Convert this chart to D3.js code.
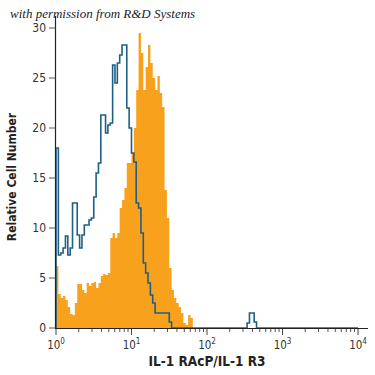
<!DOCTYPE html>
<html>
<head>
<meta charset="utf-8">
<script src="https://cdn.jsdelivr.net/npm/d3@7"></script>
<style>
  html, body { margin: 0; padding: 0; background: #fff; }
  svg { display: block; }
  .tick-label { font-family: "DejaVu Sans Condensed", "Liberation Sans Narrow", sans-serif; font-size: 11.5px; fill: #333; }
  .axis-title { font-family: "DejaVu Sans Condensed", "Liberation Sans Narrow", sans-serif; font-weight: bold; fill: #222; }
</style>
</head>
<body>
<div id="chart"></div>
<script>

// histogram bins, 32 bins per decade starting at 10^0
var binsPerDecade = 32;

// stained cells (orange, filled)
var stainedCounts = [
    6.2, 3.4, 3.0, 3.2, 2.8, 2.1, 1.4, 1.3, 2.5, 4.4,
    4.4, 3.8, 3.5, 4.5, 4.2, 4.5, 4.6, 4.0, 4.5, 5.2,
    5.4, 5.3, 5.5, 9.0, 9.5, 9.0, 9.5, 12.0, 12.8, 14.0,
    16.5, 16.5, 17.5, 20.0, 23.8, 29.5, 27.5, 23.8, 26.1, 28.3,
    26.5, 25.0, 23.8, 25.2, 23.5, 22.1, 13.8, 11.0, 6.0, 3.8,
    3.0, 2.5, 2.1, 1.5, 0.5, 0.3, 1.3, 1.0
];

// isotype control (blue outline)
var controlCounts = [
    18.0, 7.3, 7.5, 8.0, 9.2, 7.3, 8.0, 12.5, 12.5, 9.3,
    8.0, 9.3, 10.3, 10.3, 10.8, 11.0, 13.1, 15.5, 16.5, 21.3,
    21.3, 19.5, 20.3, 20.5, 26.3, 24.5, 26.5, 27.3, 28.3, 28.3,
    22.0, 20.0, 17.5, 16.6, 12.5, 12.0, 9.5, 6.5, 5.5, 4.5,
    3.3, 2.5, 1.5, 1.5, 1.5, 1.5, 1.5, 1.5, 0.6, 0,
    0, 0, 0, 0, 0, 0, 0, 0, 0, 0,
    0, 0, 0, 0, 0, 0, 0, 0, 0, 0,
    0, 0, 0, 0, 0, 0, 0, 0, 0, 0,
    0, 0.5, 1.5, 1.5, 0.6
];

var yTicks = [ 0, 5, 10, 15, 20, 25, 30 ];
var xDecades = [ 0, 1, 2, 3, 4 ];
var xTitle = 'IL-1 RAcP/IL-1 R3';
var yTitle = 'Relative Cell Number';
var credit = 'with permission from R&D Systems';

var width = 375,
    height = 375;

var x = d3.scaleLog()
    .domain([ 1, 1e4 ])
    .range([ 56, 358 ]);

var y = d3.scaleLinear()
    .domain([ 0, 30 ])
    .range([ 328, 28 ]);

function edge ( i ) {
    return Math.pow( 10, i / binsPerDecade );
}

function stepPoints ( counts ) {
    var pts = [ { x: edge( 0 ), v: 0 } ];
    counts.forEach( function ( v, i ) {
        pts.push({ x: edge( i ), v: v });
    });
    pts.push({ x: edge( counts.length ), v: 0 });
    return pts;
}

var svg = d3.select('#chart').append('svg')
    .attr('width', width)
    .attr('height', height);

// orange histogram
var area = d3.area()
    .curve( d3.curveStepAfter )
    .x( function ( d ) { return x( d.x ) })
    .y0( y( 0 ) )
    .y1( function ( d ) { return y( d.v ) });

svg.append('path')
    .datum( stepPoints( stainedCounts ) )
    .attr('d', area)
    .style('fill', '#f8a11c');

// blue outline histogram, baseline runs on to 10^4
var line = d3.line()
    .curve( d3.curveStepAfter )
    .x( function ( d ) { return x( d.x ) })
    .y( function ( d ) { return y( d.v ) });

var controlPts = stepPoints( controlCounts );
controlPts.push({ x: 1e4, v: 0 });

svg.append('path')
    .datum( controlPts )
    .attr('d', line)
    .style('fill', 'none')
    .style('stroke', '#1f5f86')
    .style('stroke-width', 1.6);

// y axis
svg.append('line')
    .attr('x1', 55.5).attr('x2', 55.5)
    .attr('y1', y( 0 )).attr('y2', 16)
    .style('stroke', '#222')
    .style('stroke-width', 1.2);

var yt = svg.selectAll('.ytick')
    .data( yTicks )
    .enter().append('g')
    .attr('class', 'ytick')
    .attr('transform', function ( d ) { return 'translate(0,' + y( d ) + ')' });

yt.append('line')
    .attr('x1', 49).attr('x2', 55.5)
    .style('stroke', '#555')
    .style('stroke-width', 1);

yt.append('text')
    .attr('class', 'tick-label')
    .attr('x', 46)
    .attr('dy', '0.36em')
    .attr('text-anchor', 'end')
    .style('font-size', '12px')
    .text( function ( d ) { return d });

// x axis
svg.append('line')
    .attr('x1', 55).attr('x2', 368)
    .attr('y1', y( 0 ) + 0.5).attr('y2', y( 0 ) + 0.5)
    .style('stroke', '#222')
    .style('stroke-width', 1.2);

var minor = [];
xDecades.slice( 0, -1 ).forEach( function ( p ) {
    for ( var k = 2; k < 10; k++ ) {
        minor.push( k * Math.pow( 10, p ) );
    }
});

svg.selectAll('.xminor')
    .data( minor )
    .enter().append('line')
    .attr('class', 'xminor')
    .attr('x1', function ( d ) { return x( d ) })
    .attr('x2', function ( d ) { return x( d ) })
    .attr('y1', y( 0 ) + 1).attr('y2', y( 0 ) + 4)
    .style('stroke', '#555')
    .style('stroke-width', 1);

var xt = svg.selectAll('.xtick')
    .data( xDecades )
    .enter().append('g')
    .attr('class', 'xtick')
    .attr('transform', function ( d ) { return 'translate(' + x( Math.pow( 10, d ) ) + ',0)' });

xt.append('line')
    .attr('y1', y( 0 ) + 1).attr('y2', y( 0 ) + 7)
    .style('stroke', '#444')
    .style('stroke-width', 1);

var xl = xt.append('text')
    .attr('class', 'tick-label')
    .attr('y', 349)
    .attr('text-anchor', 'middle');

xl.append('tspan').text('10');
xl.append('tspan')
    .attr('dy', -5)
    .style('font-size', '8px')
    .text( function ( d ) { return d });

// titles
svg.append('text')
    .attr('class', 'axis-title')
    .attr('x', 207)
    .attr('y', 366)
    .attr('text-anchor', 'middle')
    .style('font-size', '13.5px')
    .text( xTitle );

svg.append('text')
    .attr('class', 'axis-title')
    .attr('transform', 'translate(16,177) rotate(-90)')
    .attr('text-anchor', 'middle')
    .style('font-size', '12px')
    .text( yTitle );

svg.append('text')
    .attr('x', 10)
    .attr('y', 18)
    .style('font-family', '"Liberation Serif", "DejaVu Serif", serif')
    .style('font-style', 'italic')
    .style('font-size', '13px')
    .style('fill', '#1a1a2e')
    .text( credit );

</script>
</body>
</html>
